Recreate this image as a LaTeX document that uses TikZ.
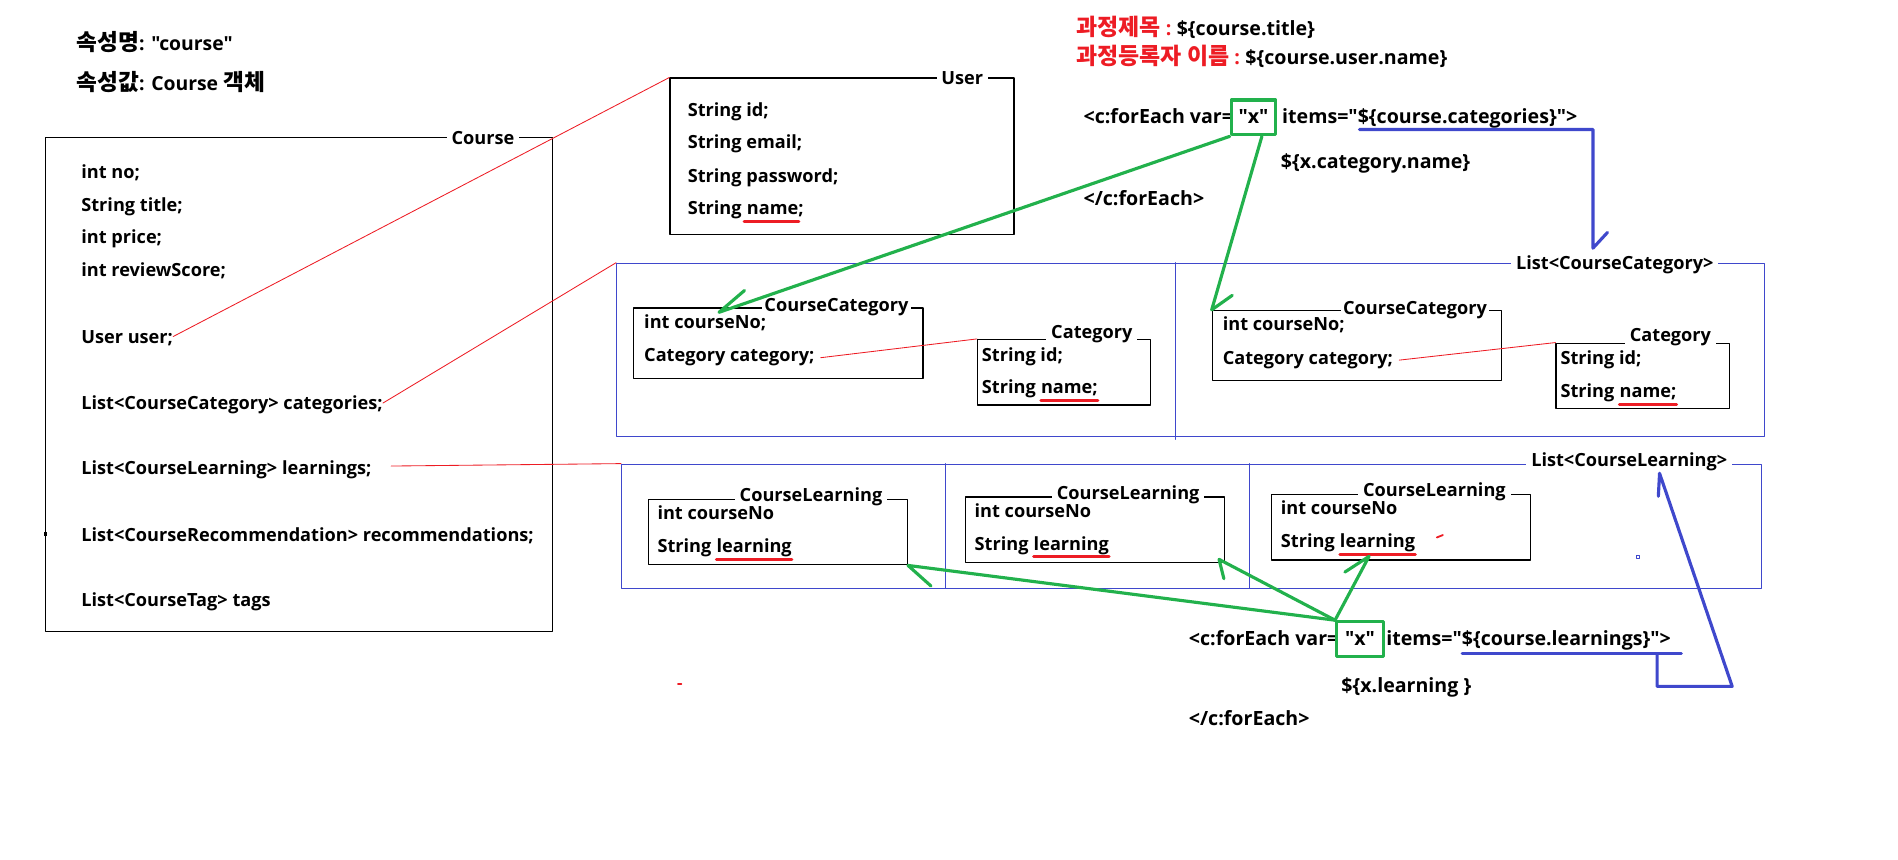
\documentclass[tikz,border=0pt]{standalone}
\usepackage{fontspec}
\setmainfont{Open Sans}[Ligatures=TeXOff]
\newfontfamily\kr{Noto Sans CJK KR}[Scale=1.17]
\usepackage{tikz}
\usetikzlibrary{positioning}
\definecolor{pRed}{RGB}{237,28,36}
\definecolor{pGreen}{RGB}{34,177,76}
\definecolor{pBlue}{RGB}{63,72,204}

\begin{document}
\begin{tikzpicture}[x=1pt,y=-1pt,line cap=round,line join=round,
  txt/.style={font=\bfseries\fontsize{15}{18}\selectfont,inner sep=0pt,text height=10.8pt,text depth=0pt,anchor=west},
  code/.style={txt,font=\bfseries\fontsize{16.2}{19}\selectfont},
  ttl/.style={txt,anchor=center,fill=white,inner xsep=4pt,inner ysep=3pt},
  objbox/.style={draw,line width=1.1pt,inner sep=0pt,anchor=north west},
  listbox/.style={draw=pBlue,line width=0.8pt,inner sep=0pt,anchor=north west},
  link/.style={pRed,line width=0.7pt},
  uline/.style={pRed,line width=2.4pt},
  pick/.style={pGreen,line width=2.6pt},
  flow/.style={pBlue,line width=2.6pt},
  varbox/.style={code,draw=pGreen,line width=2.5pt,inner ysep=9pt}]
\useasboundingbox (0,0) rectangle (1568,710);

% attribute name / value
\node[txt,font=\bfseries\fontsize{16}{19}\selectfont] (attrName) at (63,36) {{\kr 속성명}: "course"};
\node[txt,font=\bfseries\fontsize{16}{19}\selectfont] (attrVal) at (63,69) {{\kr 속성값}: Course {\kr 객체}};

% Course object
\node[objbox,minimum width=419pt,minimum height=408pt] (course) at (37,113) {};
\node[ttl] (courseT) at (399,114) {Course};
\foreach \lbl/\y [count=\i] in {int no;/142,String title;/169,int price;/196,int reviewScore;/223,User user;/278,List<CourseCategory> categories;/333,List<CourseLearning> learnings;/387,List<CourseRecommendation> recommendations;/442,List<CourseTag> tags/496}
  \node[txt] (crs\i) at (67,\y) {\lbl};
\fill (36,439.5) rectangle (38.5,442.5);

% User object
\node[objbox,minimum width=284pt,minimum height=129pt] (user) at (553,64) {};
\node[ttl] (userT) at (795,64) {User};
\node[txt] (usr1) at (568,91) {String id;};
\node[txt] (usr2) at (568,117) {String email;};
\node[txt] (usr3) at (568,145) {String password;};
\node[txt] (usr4) at (568,172) {String};
\node[txt,right=3.9pt of usr4] (usrName) {name;};
\draw[uline] ([xshift=-2pt,yshift=-5.5pt]usrName.south west) -- ([xshift=-4pt,yshift=-5.5pt]usrName.south east);

% List<CourseCategory>
\node[listbox,minimum width=948pt,minimum height=143pt] (catList) at (509,217) {};
\draw[pBlue,line width=0.8pt] (971,217) -- (971,363);
\node[ttl] (catListT) at (1334,217) {List<CourseCategory>};
\foreach \cx/\cy/\kx/\ky/\n in {523/254/807/280/1,1001/256/1285/283/2}{
  \node[objbox,minimum width=239pt,minimum height=58pt] (cc\n) at (\cx,\cy) {};
  \node[ttl,inner xsep=2pt,inner ysep=1pt] (ccT\n) at ({\cx+168},{\cy-2}) {CourseCategory};
  \node[txt] (ccNo\n) at ({\cx+9},{\cy+12}) {int courseNo;};
  \node[txt] (ccCat\n) at ({\cx+9},{\cy+39.5}) {Category category;};
  \node[objbox,minimum width=143pt,minimum height=54pt] (cat\n) at (\kx,\ky) {};
  \node[ttl] (catT\n) at ({\kx+95},{\ky-6}) {Category};
  \node[txt] (catId\n) at ({\kx+4},{\ky+13}) {String id;};
  \node[txt] (catS\n) at ({\kx+4},{\ky+40}) {String};
  \node[txt,right=3.9pt of catS\n] (catName\n) {name;};
  \draw[uline] ([yshift=-5.5pt]catName\n.south west) -- ([yshift=-5.5pt]catName\n.south east);
  \draw[link] (ccCat\n.east) ++(5,2) -- (cat\n.north west);
}

% List<CourseLearning>
\node[listbox,minimum width=942pt,minimum height=103pt] (lrnList) at (513,383) {};
\draw[pBlue,line width=0.8pt] (781,383) -- (781,486) (1032,383) -- (1032,486);
\node[ttl] (lrnListT) at (1346,380) {List<CourseLearning>};
\foreach \lx/\ly/\n in {535/412/1,797/410/2,1050/408/3}{
  \node[objbox,minimum width=214pt,minimum height=54pt] (cl\n) at (\lx,\ly) {};
  \node[ttl,inner ysep=1pt] (clT\n) at ({\lx+135},{\ly-3}) {CourseLearning};
  \node[txt] (clNo\n) at ({\lx+8},{\ly+12}) {int courseNo};
  \node[txt] (clS\n) at ({\lx+8},{\ly+39}) {String};
  \node[txt,right=3.9pt of clS\n] (clW\n) {learning};
  \draw[uline] ([yshift=-5.5pt]clW\n.south west) -- ([yshift=-5.5pt]clW\n.south east);
}

% red links from Course fields
\draw[link] (crs5.east) -- (user.north west);
\draw[link] (crs6.east) -- (catList.north west);
\draw[link] (crs7.east) ++(16,-2) -- (lrnList.north west);

% EL on top
\node[code,text=pRed] (titleK) at (889,24) {{\kr 과정제목} :};
\node[code,right=4pt of titleK] (titleEL) {\$\{course.title\}};
\node[code,text=pRed] (userK) at (889,48) {{\kr 과정등록자 이름} :};
\node[code,right=4pt of userK] (userEL) {\$\{course.user.name\}};

% forEach over categories
\node[code] (fe1a) at (895,97) {<c:forEach var=};
\node[varbox,inner xsep=6pt,right=-3pt of fe1a] (varx1) {"x"};
\node[code,right=4pt of varx1] (fe1b) {items="\$\{course.categories\}">};
\node[code] (fe1c) at (1058,134) {\$\{x.category.name\}};
\node[code] (fe1d) at (895,164) {</c:forEach>};
\coordinate (g1) at (594,258);
\draw[pick] (varx1.south west) -- (g1) -- ++(21,-18);
\draw[pick] ([xshift=7pt]varx1.south) -- (cc2.north west) -- ++(17,-12);
\coordinate (catArr) at (1316,205);
\draw[flow] (1123,107) -| (catArr) -- ++(12,-13);

% forEach over learnings
\node[code] (fe2a) at (982,528) {<c:forEach var=};
\node[varbox,inner xsep=7pt,right=-3pt of fe2a] (varx2) {"x"};
\node[code,right=1pt of varx2] (fe2b) {items="\$\{course.learnings\}">};
\node[code] (fe2c) at (1108,567) {\$\{x.learning \}};
\node[code] (fe2d) at (982,594) {</c:forEach>};
\draw[pick] (varx2.north west) -- (cl1.south east) -- ++(19,17);
\draw[pick] (varx2.north west) -- ([xshift=-5pt,yshift=3pt]cl2.south east) -- ++(4,16);
\draw[pick] (varx2.north west) -- ([xshift=-7pt,yshift=-7pt]clW3.south) -- ++(-20,13);
\coordinate (lrnArr) at (1371,391);
\draw[flow] (1208,540) -- (1389,540);
\draw[flow] (1369,540) |- (1431,567) -- (lrnArr) -- ++(-1,19);

% stray marks
\draw[pRed,line width=1.5pt] (1187,444) -- (1192,442);
\draw[pRed,line width=1.2pt] (560,565) -- (563,565);
\draw[pBlue,line width=0.6pt] (1351.5,458.5) rectangle (1354.5,461.5);
\end{tikzpicture}
\end{document}
